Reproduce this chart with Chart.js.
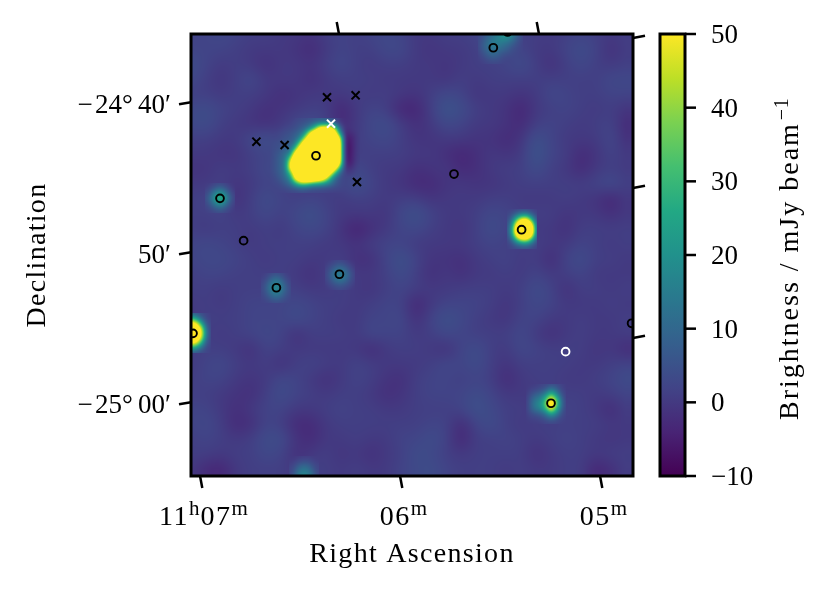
<!DOCTYPE html>
<html>
<head>
<meta charset="utf-8">
<style>body { margin: 0; background: #fff; } canvas { display: block; }</style>
<script src="https://cdn.jsdelivr.net/npm/chart.js@4"></script>
</head>
<body>
<canvas id="map" width="829" height="593"></canvas>
<script>
// axes, in minutes of RA past 11h and arcmin of Dec past -24 deg
const raRange = [4.84, 7.05];
const decRange = [-64.8, -35.333];
const raTicks = [7, 6, 5];
const raTickLabels = [['11', 'h', '07', 'm'], ['06', 'm'], ['05', 'm']];
const raTopTicks = [6.31, 5.31];
const decTicks = [-40, -50, -60];
const decTickLabels = ['−\u200a24°\u200940′', '50′', '−\u200a25°\u200900′'];
const decRightTicks = [-35.6, -45.6, -55.6];
const cbTicks = [-10, 0, 10, 20, 30, 40, 50];
const cbTickLabels = ['−10', '0', '10', '20', '30', '40', '50'];

// source catalogue positions [RA, Dec]
const blackCircles = [[6.425, -43.45], [6.905, -46.29], [6.787, -49.11], [5.5385, -36.25], [5.467, -35.2],
  [5.735, -44.67], [5.397, -48.38], [6.308, -51.35], [6.623, -52.25], [7.04, -55.29], [4.847, -54.62], [5.25, -59.95]];
const whiteCircles = [[5.177, -56.51]];
const blackCrosses = [[6.37, -39.55], [6.227, -39.42], [6.723, -42.51], [6.582, -42.73], [6.22, -45.2]];
const whiteCrosses = [[6.35, -41.31]];

// background brightness, 1 arcmin spacing, from the top left corner
const skyRA0 = 7.05, skyDec0 = -35.333, skyStepRA = -0.075, skyStepDec = -1;
const sky = [
  [2,2,3,2,1,1,0,0,-1,1,2,1,2,3,2,0,0,1,1,2,4,3,1,1,0,1,2,1,0,1],
  [2,2,2,1,0,0,0,-1,-3,0,2,1,1,3,3,0,-1,0,0,1,3,2,2,0,0,2,4,2,-2,1],
  [4,2,0,1,0,-2,0,0,-1,1,3,1,0,1,1,0,0,-1,0,1,1,2,4,1,-2,1,3,1,0,1],
  [3,1,-1,1,3,0,0,0,-2,0,1,1,1,0,0,0,0,-1,1,0,1,1,1,1,1,1,1,1,3,3],
  [1,1,0,1,1,0,-2,-1,0,0,0,1,0,1,0,-1,1,3,2,-1,0,0,-1,0,3,2,1,1,2,2],
  [3,4,2,1,0,-2,-1,0,1,1,-4,0,2,1,-4,-4,1,6,4,1,0,-1,-4,0,1,2,1,0,1,-1],
  [3,4,1,0,-1,-2,0,3,4,2,-3,0,3,4,1,-2,0,3,2,0,0,-1,-3,1,2,1,0,1,2,-3],
  [1,1,0,0,3,5,2,2,-1,-1,-2,1,2,3,1,-1,-1,0,0,-1,-1,-3,-1,5,2,0,0,0,3,-2],
  [0,0,-1,-1,1,2,3,3,-1,-1,-1,1,1,1,1,0,0,-2,-4,-2,0,-1,0,6,2,1,-3,-1,2,0],
  [-1,-1,1,0,1,3,4,3,-1,-1,0,3,1,0,0,-2,-1,0,-3,-2,0,1,1,4,1,0,-3,0,1,0],
  [0,0,1,-1,0,2,1,1,0,1,2,5,2,0,-1,-3,-3,-1,0,-1,-1,0,1,1,1,1,1,2,4,1],
  [1,2,3,-2,1,4,2,1,2,1,0,1,1,0,1,1,-1,0,0,0,1,1,0,0,0,1,0,-1,-4,0],
  [1,1,2,0,1,3,1,3,5,2,0,0,0,-1,3,5,2,0,0,1,3,2,1,1,1,-1,0,0,-2,0],
  [1,0,1,1,0,1,0,2,3,2,-1,-5,-2,0,2,3,1,0,-1,1,4,2,1,0,0,-2,1,1,1,1],
  [2,3,2,1,0,1,1,1,1,0,0,-1,1,2,2,0,0,0,0,1,2,1,1,1,0,0,2,1,0,1],
  [2,3,3,2,1,0,1,1,0,0,1,-2,-2,2,5,2,-1,-1,-2,0,1,2,0,1,-3,2,4,1,1,0],
  [1,2,2,1,1,1,1,0,-2,1,2,0,0,1,4,1,-2,0,-2,0,0,1,0,2,0,1,2,0,0,0],
  [1,1,0,1,1,1,2,1,0,0,1,0,-1,1,2,1,0,0,1,1,1,0,1,4,2,-2,1,1,0,1],
  [0,1,0,1,2,2,2,3,2,1,1,0,1,2,2,-4,0,2,2,2,1,-1,1,3,2,0,0,0,1,0],
  [0,1,1,1,2,2,2,4,2,1,0,0,2,2,3,-2,2,5,3,1,0,-1,2,2,0,0,1,0,0,1],
  [1,1,0,1,2,3,2,-2,1,1,1,0,3,2,2,0,1,3,2,1,1,1,3,0,-2,0,1,0,0,1],
  [1,1,1,0,-2,2,1,0,0,0,0,0,-3,0,1,1,0,-2,2,4,1,0,3,2,1,1,1,-1,0,-3],
  [0,2,3,1,0,1,-2,1,2,1,0,2,1,0,0,0,1,3,2,4,1,-1,1,1,1,1,0,0,1,2],
  [1,2,2,0,-1,0,3,2,0,-2,0,2,1,-1,-2,1,2,2,1,2,1,-3,0,1,1,0,0,1,2,4],
  [1,1,0,-1,-2,1,4,2,1,0,1,1,0,-2,-1,1,2,2,2,4,2,0,0,0,1,1,1,0,1,2],
  [2,2,0,-2,0,2,2,0,0,1,2,1,1,0,0,1,1,1,2,5,3,1,1,0,1,2,1,0,-3,1],
  [2,3,1,-3,-2,2,1,-3,-3,0,1,1,1,1,1,1,2,2,-3,2,4,1,0,1,1,1,1,1,0,0],
  [1,2,1,0,1,4,4,-1,-3,0,0,1,0,0,2,2,4,2,-4,1,1,2,1,0,1,2,1,0,-1,0],
  [1,1,0,1,1,3,2,-2,0,1,-1,0,-2,0,1,4,3,1,0,1,1,1,1,-2,0,1,1,0,1,1],
  [0,-3,-4,0,1,1,1,0,1,1,0,1,0,0,2,3,4,2,1,1,1,0,1,0,0,1,1,-4,-2,1]
];

// extra brightness of the bright sources on top of sky, 1/3 arcmin spacing
const patchStepRA = -0.025, patchStepDec = -1 / 3;
const mainBlob = [
  [0,0,0,0,0,0,1,1,2,3,4,5,5,3,1,0,0,0,0],
  [0,0,0,0,0,1,2,3,5,8,12,14,13,8,2,0,0,0,0],
  [0,0,0,1,1,2,4,7,14,30,56,60,58,40,10,0,0,0,0],
  [0,0,1,2,3,5,8,18,50,70,80,80,80,62,22,-2,-2,-1,0],
  [0,0,1,3,4,7,14,42,68,85,90,90,90,80,50,-3,-5,-2,0],
  [0,1,2,4,5,10,36,68,85,95,95,95,95,90,58,-4,-6,-2,0],
  [0,1,2,5,7,25,60,80,95,95,95,95,95,90,58,-4,-7,-2,0],
  [0,2,4,8,12,52,80,90,95,95,95,95,95,90,58,-4,-7,-2,0],
  [0,2,5,9,32,70,90,95,95,95,95,95,95,90,58,-4,-7,-2,0],
  [0,2,5,10,48,75,90,95,95,95,95,95,95,85,52,-3,-7,-2,0],
  [0,2,5,10,48,72,90,95,95,95,95,95,85,60,28,-2,-4,-1,0],
  [0,2,5,9,30,60,80,90,95,95,95,80,58,30,8,0,-2,-1,0],
  [0,1,4,8,16,52,70,80,85,80,70,56,30,10,3,0,0,0,0],
  [0,1,2,6,10,25,40,42,35,30,28,22,14,6,2,0,0,0,0],
  [0,0,1,2,4,6,8,8,6,5,4,3,3,2,1,0,0,0,0],
  [0,0,0,0,1,1,2,2,1,1,1,1,0,0,0,0,0,0,0]
];
const greenSource = [
  [0,0,1,2,1,0,0],
  [0,2,5,8,5,2,0],
  [1,5,14,20,14,5,1],
  [2,8,20,30,20,8,2],
  [1,5,14,20,14,5,1],
  [0,2,5,8,5,2,0],
  [0,0,1,2,1,0,0]
];
const eastSource = [
  [0,0,1,2,2,1,0],
  [0,3,8,14,14,6,1],
  [1,8,30,50,50,24,3],
  [1,16,55,75,75,52,6],
  [2,22,70,85,85,65,8],
  [1,20,62,80,80,58,6],
  [1,10,35,52,52,30,4],
  [0,3,10,15,15,8,2],
  [0,1,2,3,3,2,0]
];
const edgeSource = [
  [6,5,3,1,0],
  [28,20,8,2,0],
  [55,50,25,5,1],
  [70,65,48,10,1],
  [75,70,55,14,1],
  [70,65,48,10,1],
  [52,48,28,6,1],
  [25,20,10,2,0],
  [5,4,2,1,0]
];
const southSource = [
  [0,0,0,1,1,3,2,1,0],
  [0,1,2,3,6,12,8,2,0],
  [0,4,7,10,16,30,18,5,0],
  [0,7,13,16,30,55,34,10,0],
  [0,8,16,20,38,62,40,12,0],
  [0,7,13,16,28,50,30,8,0],
  [0,3,5,7,12,22,14,4,0],
  [0,1,1,2,4,7,4,1,0],
  [0,0,0,0,1,1,1,0,0]
];
const midSource = [
  [0,0,1,2,1,0,0],
  [0,2,4,6,4,2,0],
  [1,4,9,12,9,4,1],
  [1,6,12,15,12,6,1],
  [1,4,9,12,9,4,1],
  [0,2,4,5,4,2,0],
  [0,0,1,2,1,0,0]
];
const lowerSource = [
  [0,0,2,3,2,0,0],
  [0,2,6,9,6,2,0],
  [1,4,11,15,11,4,1],
  [1,6,13,18,13,6,1],
  [1,4,10,14,10,4,1],
  [0,2,5,7,5,2,0],
  [0,0,1,2,1,0,0]
];
const topSource = [
  [0,2,5,8,12,18,20,14,6,1],
  [1,3,7,10,13,15,14,9,4,1],
  [1,5,9,12,12,10,8,5,2,0],
  [1,5,8,11,9,7,5,2,1,0],
  [0,3,6,8,6,3,2,1,0,0],
  [0,1,3,4,3,1,0,0,0,0],
  [0,0,1,1,1,0,0,0,0,0]
];
const bottomSource = [
  [0,0,1,1,1,0,0],
  [0,1,3,4,3,1,0],
  [1,3,8,10,8,3,1],
  [1,5,12,15,12,5,1],
  [1,7,15,18,15,7,1]
];
// [RA of first column, Dec of first row, values]
const patches = [
  [6.655, -40.933, mainBlob],
  [6.98, -45.267, greenSource],
  [5.47, -47, eastSource],
  [7.05, -53.933, edgeSource],
  [5.375, -58.667, southSource],
  [6.38, -50.4, midSource],
  [6.7, -51.267, lowerSource],
  [5.615, -35.333, topSource],
  [6.56, -63.467, bottomSource]
];

const viridis = ['#440154', '#482475', '#414487', '#355f8d', '#2a788e', '#21918c', '#22a884', '#44bf70', '#7ad151', '#bddf26', '#fde725'];
const viridisRGB = viridis.map(c => [1, 3, 5].map(i => parseInt(c.substr(i, 2), 16)));

const serif = '"Liberation Serif", serif';
const tickFont = { family: serif, size: 27 };

// smooth resampling of a grid, like imshow with a spline interpolation
function weights(f) {
  const g = 1 - f;
  return [g * g * g / 6, (3 * f * f * f - 6 * f * f + 4) / 6, (3 * g * g * g - 6 * g * g + 4) / 6, f * f * f / 6];
}

function sample(grid, col, row) {
  const rows = grid.length, cols = grid[0].length;
  if (col < 0 || row < 0 || row > rows - 1 || col > cols - 1) return null;
  const c0 = Math.floor(col), r0 = Math.floor(row);
  const wc = weights(col - c0), wr = weights(row - r0);
  let v = 0;
  for (let j = 0; j < 4; j++) {
    const gridRow = grid[Math.max(0, Math.min(rows - 1, r0 + j - 1))];
    for (let i = 0; i < 4; i++) {
      v += wr[j] * wc[i] * gridRow[Math.max(0, Math.min(cols - 1, c0 + i - 1))];
    }
  }
  return v;
}

function brightness(ra, dec) {
  const col = Math.max(0, Math.min(29, (ra - skyRA0) / skyStepRA));
  const row = Math.max(0, Math.min(29, (dec - skyDec0) / skyStepDec));
  let v = sample(sky, col, row);
  patches.forEach(([ra0, dec0, grid]) => {
    const extra = sample(grid, (ra - ra0) / patchStepRA, (dec - dec0) / patchStepDec);
    if (extra !== null) v += extra;
  });
  return v;
}

function colourFor(v) {
  const t = Math.max(0, Math.min(1, (v + 10) / 60)) * (viridisRGB.length - 1);
  const i = Math.min(Math.floor(t), viridisRGB.length - 2);
  const f = t - i;
  return viridisRGB[i].map((c, k) => c + (viridisRGB[i + 1][k] - c) * f);
}

function drawText(ctx, text, x, y, font, align, spacing) {
  ctx.font = font;
  ctx.textAlign = align || 'left';
  ctx.textBaseline = 'alphabetic';
  ctx.letterSpacing = (spacing || 0) + 'px';
  ctx.fillStyle = '#000';
  ctx.fillText(text, x, y);
  ctx.letterSpacing = '0px';
}

function line(ctx, x1, y1, x2, y2, width) {
  ctx.beginPath();
  ctx.moveTo(x1, y1);
  ctx.lineTo(x2, y2);
  ctx.lineWidth = width;
  ctx.strokeStyle = '#000';
  ctx.stroke();
}

let mapImage = null;

const mapPlugin = {
  id: 'mapPlugin',
  beforeDatasetsDraw(chart) {
    const { ctx, chartArea: area, scales } = chart;
    const w = Math.round(area.right - area.left), h = Math.round(area.bottom - area.top);
    if (!mapImage) {
      mapImage = ctx.createImageData(w, h);
      for (let py = 0; py < h; py++) {
        const dec = scales.y.getValueForPixel(area.top + py + 0.5);
        for (let px = 0; px < w; px++) {
          const ra = scales.x.getValueForPixel(area.left + px + 0.5);
          const rgb = colourFor(brightness(ra, dec));
          const i = (py * w + px) * 4;
          mapImage.data[i] = rgb[0];
          mapImage.data[i + 1] = rgb[1];
          mapImage.data[i + 2] = rgb[2];
          mapImage.data[i + 3] = 255;
        }
      }
    }
    ctx.putImageData(mapImage, Math.round(area.left), Math.round(area.top));
  },
  afterDatasetsDraw(chart) {
    const { ctx, chartArea: area, scales } = chart;
    ctx.save();
    // frame
    ctx.strokeStyle = '#000';
    ctx.lineWidth = 3;
    ctx.strokeRect(area.left, area.top, area.right - area.left, area.bottom - area.top);

    // slanted coordinate ticks
    raTicks.forEach((ra, i) => {
      const x = scales.x.getPixelForValue(ra);
      line(ctx, x - 1, area.bottom, x + 1.3, area.bottom + 12, 2.5);
      const parts = raTickLabels[i];
      let total = 0;
      parts.forEach((p, k) => {
        ctx.font = (k % 2 ? 21 : 28) + 'px ' + serif;
        total += ctx.measureText(p).width + (k % 2 ? 1 : 3);
      });
      let tx = x + 3 - total / 2;
      parts.forEach((p, k) => {
        const font = (k % 2 ? 21 : 28) + 'px ' + serif;
        drawText(ctx, p, tx, k % 2 ? 515 : 525, font, 'left', k % 2 ? 0 : 1.5);
        ctx.font = font;
        tx += ctx.measureText(p).width + (k % 2 ? 1 : 3);
      });
    });
    raTopTicks.forEach(ra => {
      const x = scales.x.getPixelForValue(ra);
      line(ctx, x, area.top, x - 2.3, area.top - 12, 2.5);
    });
    decTicks.forEach(dec => {
      const y = scales.y.getPixelForValue(dec);
      line(ctx, area.left, y - 1.7, area.left - 12, y + 0.3, 2.5);
    });
    decRightTicks.forEach(dec => {
      const y = scales.y.getPixelForValue(dec);
      line(ctx, area.right, y, area.right + 12, y - 2.3, 2.5);
    });

    // colour bar
    const cb = scales.cb;
    const barLeft = 660, barRight = 685;
    const grad = ctx.createLinearGradient(0, cb.getPixelForValue(-10), 0, cb.getPixelForValue(50));
    viridis.forEach((c, i) => grad.addColorStop(i / (viridis.length - 1), c));
    ctx.fillStyle = grad;
    ctx.fillRect(barLeft, area.top, barRight - barLeft, area.bottom - area.top);
    ctx.lineWidth = 3;
    ctx.strokeRect(barLeft, area.top, barRight - barLeft, area.bottom - area.top);
    cbTicks.forEach(v => {
      const y = cb.getPixelForValue(v);
      line(ctx, barRight, y, barRight + 11, y, 2.5);
    });

    // axis titles
    drawText(ctx, 'Right Ascension', 412, 562, '28px ' + serif, 'center', 1.3);
    ctx.save();
    ctx.translate(45, 255);
    ctx.rotate(-Math.PI / 2);
    drawText(ctx, 'Declination', 0, 0, '28px ' + serif, 'center', 1.3);
    ctx.restore();
    ctx.save();
    ctx.translate(798, 420);
    ctx.rotate(-Math.PI / 2);
    drawText(ctx, 'Brightness / mJy beam', 0, 0, '28px ' + serif, 'left', 2);
    ctx.font = '28px ' + serif;
    ctx.letterSpacing = '2px';
    const tw = ctx.measureText('Brightness / mJy beam').width;
    ctx.letterSpacing = '0px';
    drawText(ctx, '−1', tw + 2, -10, '20px ' + serif, 'left', 0.5);
    ctx.restore();
    ctx.restore();
  }
};

const toPoints = list => list.map(([x, y]) => ({ x, y }));

new Chart(document.getElementById('map'), {
  type: 'scatter',
  data: {
    datasets: [
      { data: toPoints(blackCircles), pointStyle: 'circle', pointRadius: 3.9, pointBorderWidth: 1.9, pointBorderColor: '#000', pointBackgroundColor: 'rgba(0,0,0,0)' },
      { data: toPoints(whiteCircles), pointStyle: 'circle', pointRadius: 3.9, pointBorderWidth: 1.9, pointBorderColor: '#fff', pointBackgroundColor: 'rgba(0,0,0,0)' },
      { data: toPoints(blackCrosses), pointStyle: 'crossRot', pointRadius: 5.7, pointBorderWidth: 2, pointBorderColor: '#000' },
      { data: toPoints(whiteCrosses), pointStyle: 'crossRot', pointRadius: 5.7, pointBorderWidth: 2, pointBorderColor: '#fff' }
    ]
  },
  options: {
    responsive: false,
    animation: false,
    devicePixelRatio: 1,
    layout: { padding: { top: 34 } },
    plugins: { legend: { display: false }, tooltip: { enabled: false } },
    events: [],
    scales: {
      x: {
        type: 'linear', position: 'bottom', reverse: true,
        min: raRange[0], max: raRange[1],
        grid: { display: false }, border: { display: false },
        ticks: { display: false },
        afterFit(scale) { scale.height = 117; scale.paddingLeft = 0; scale.paddingRight = 0; }
      },
      y: {
        type: 'linear', position: 'left',
        min: decRange[0], max: decRange[1],
        grid: { display: false, drawTicks: false }, border: { display: false },
        afterBuildTicks(scale) { scale.ticks = decTicks.map(value => ({ value })); },
        ticks: {
          autoSkip: false, padding: 20, labelOffset: 2, color: '#000', font: tickFont, maxRotation: 0,
          callback: (v) => decTickLabels[decTicks.indexOf(v)]
        },
        afterFit(scale) { scale.width = 191; scale.paddingTop = 0; scale.paddingBottom = 0; }
      },
      cb: {
        type: 'linear', position: 'right',
        min: cbTicks[0], max: cbTicks[cbTicks.length - 1],
        grid: { display: false, drawTicks: false }, border: { display: false },
        afterBuildTicks(scale) { scale.ticks = cbTicks.map(value => ({ value })); },
        ticks: {
          autoSkip: false, padding: 78, labelOffset: 2, color: '#000', font: tickFont, maxRotation: 0,
          callback: (v) => cbTickLabels[cbTicks.indexOf(v)]
        },
        afterFit(scale) { scale.width = 196; scale.paddingTop = 0; scale.paddingBottom = 0; }
      }
    }
  },
  plugins: [mapPlugin]
});
</script>
</body>
</html>
